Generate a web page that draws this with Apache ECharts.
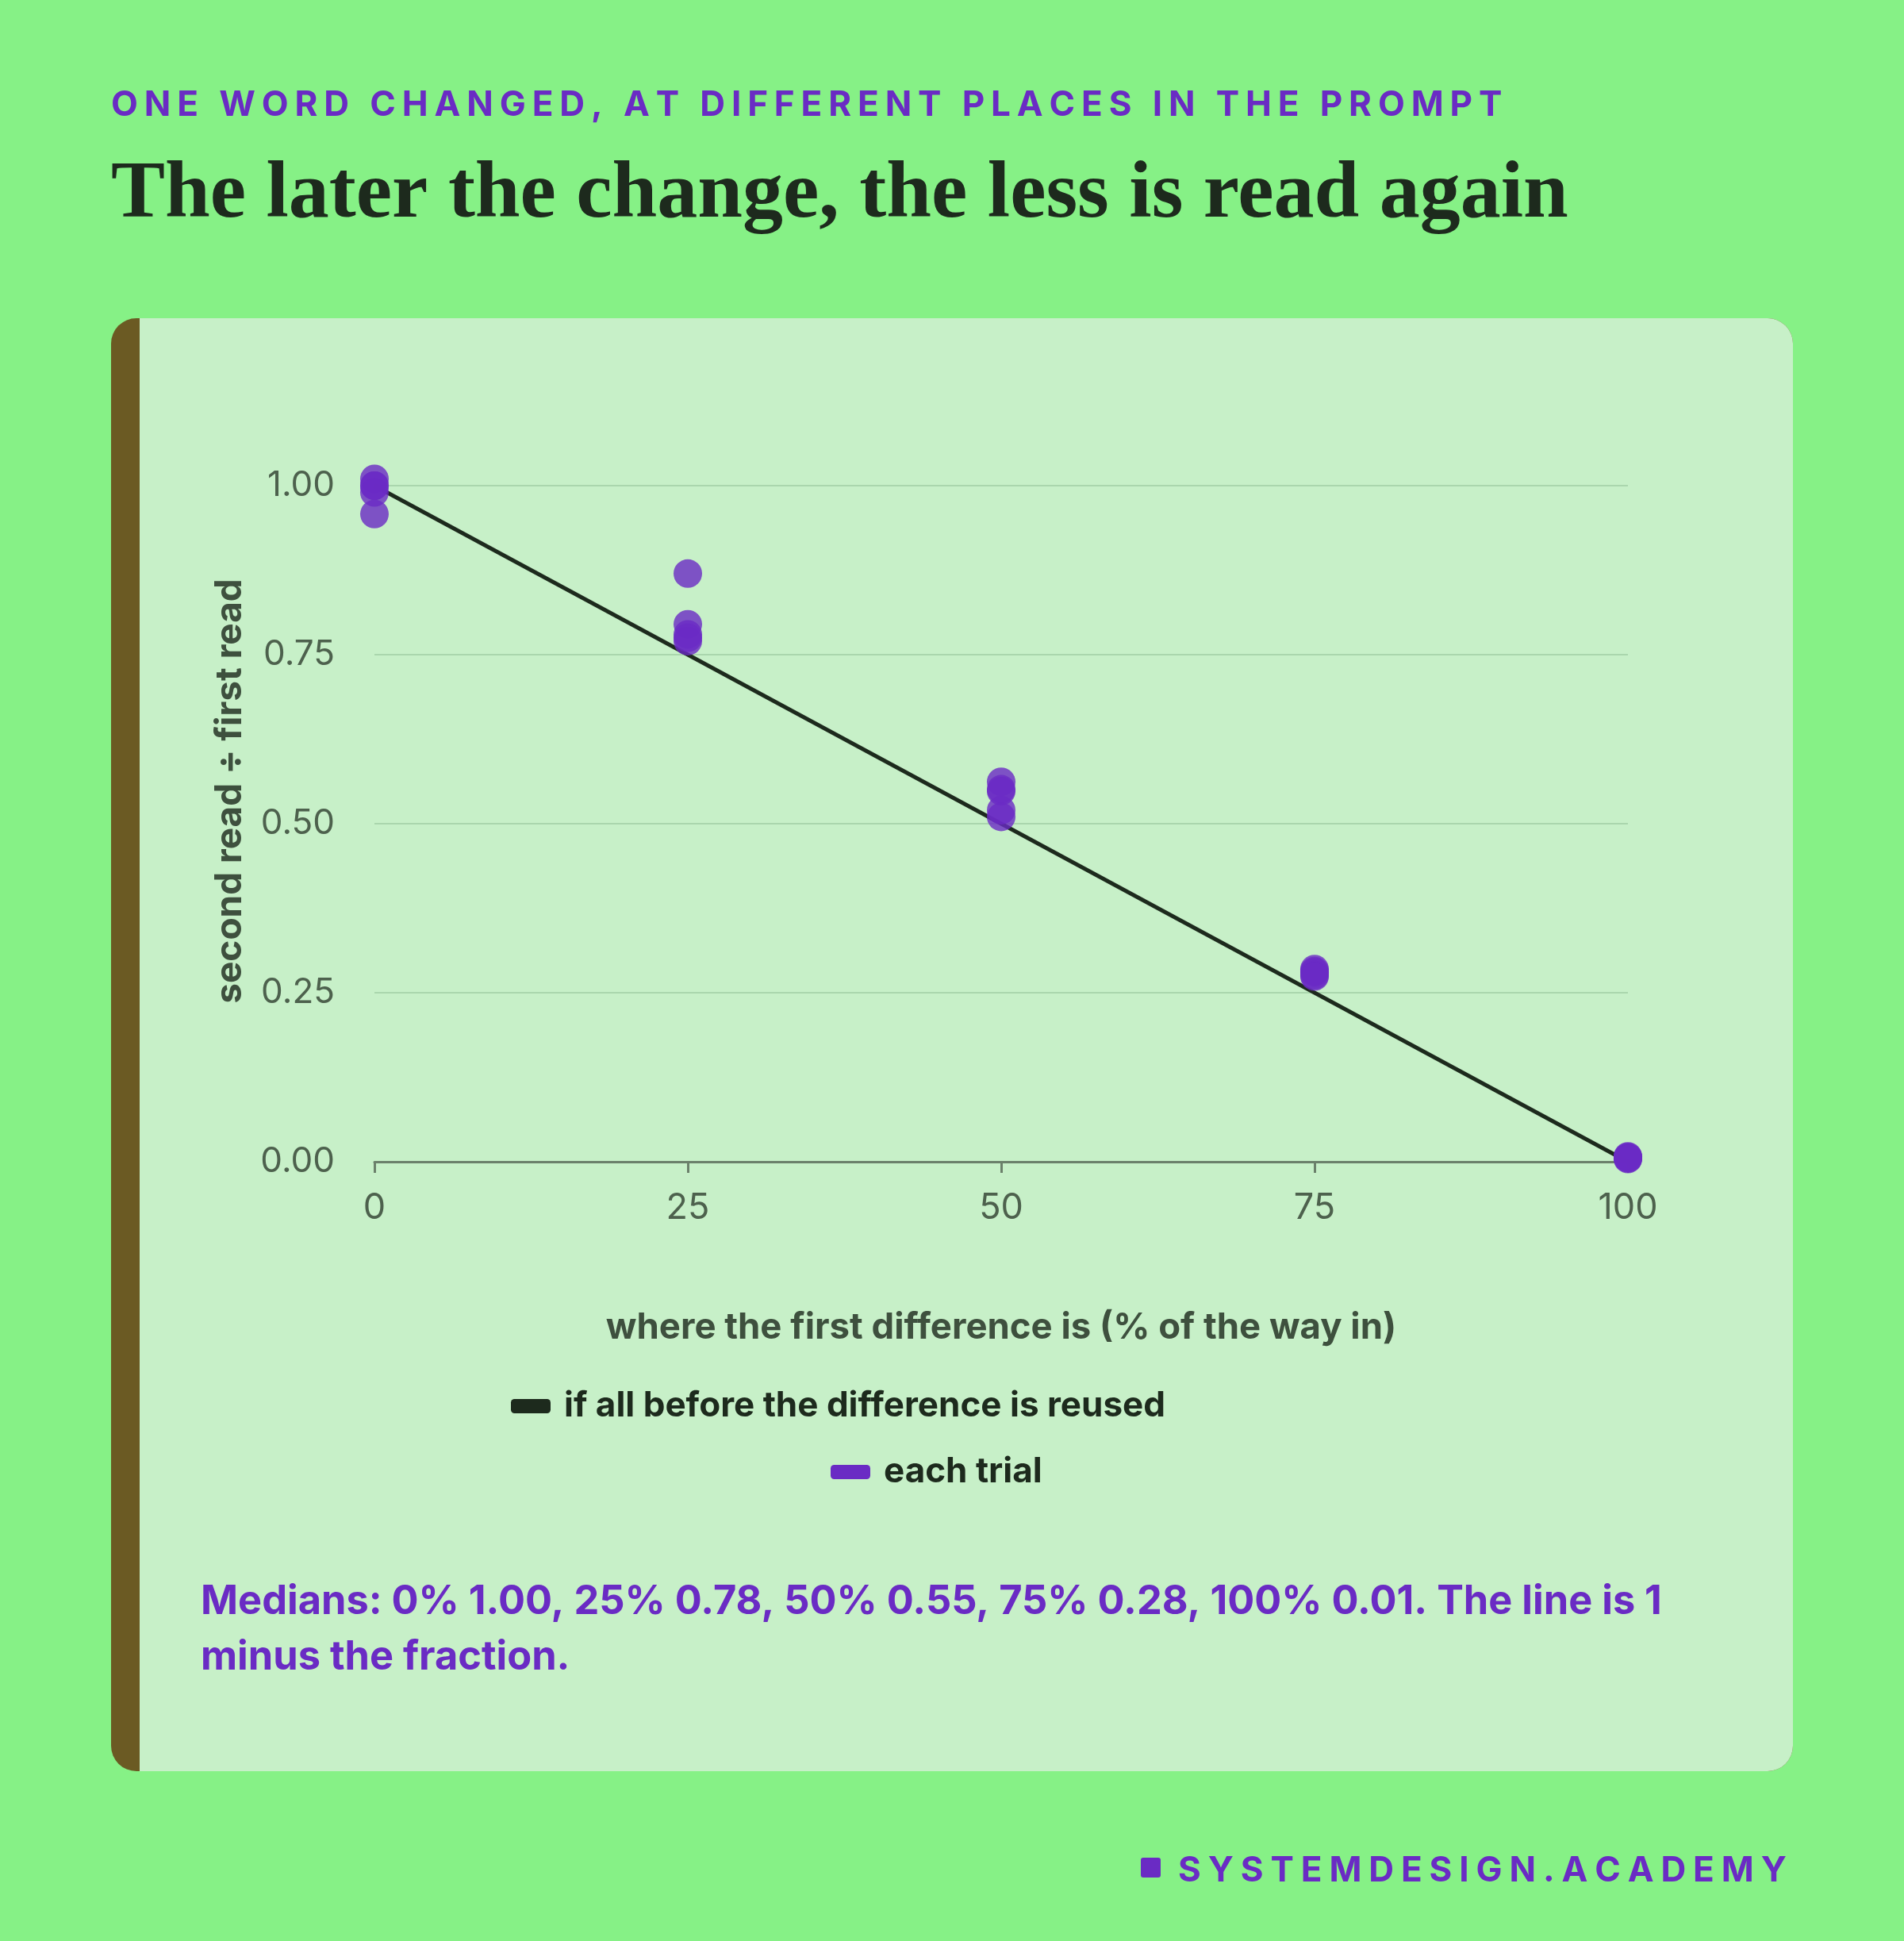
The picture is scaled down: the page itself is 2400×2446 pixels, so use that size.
<!DOCTYPE html>
<html lang="en">
<head>
  <meta charset="utf-8">
</head>
<body style="margin: 0; background: #86f186">
  <div id="container" style="width: 2400px; height: 2446px"></div>

  <script type="text/javascript" src="https://cdn.jsdelivr.net/npm/echarts@6/dist/echarts.min.js"></script>

  <script type="text/javascript">
    // where the first difference is (% of the way in)
    const positions = [0, 25, 50, 75, 100];
    // second read / first read, one value per trial
    const trialsAt0 = [1.01, 1.0, 1.0, 0.99, 0.958];
    const trialsAt25 = [0.87, 0.795, 0.78, 0.775, 0.77];
    const trialsAt50 = [0.562, 0.551, 0.548, 0.52, 0.51];
    const trialsAt75 = [0.285, 0.282, 0.28, 0.276, 0.274];
    const trialsAt100 = [0.008, 0.007, 0.006, 0.005, 0.004];
    // reference line: 1 minus the fraction
    const lineX = [0, 100];
    const lineY = [1, 0];

    const kicker = 'ONE WORD CHANGED, AT DIFFERENT PLACES IN THE PROMPT';
    const headline = 'The later the change, the less is read again';
    const note = 'Medians: 0% 1.00, 25% 0.78, 50% 0.55, 75% 0.28, 100% 0.01. The line is 1 minus the fraction.';
    const brand = 'SYSTEMDESIGN.ACADEMY';

    const trialPoints = [];
    [trialsAt0, trialsAt25, trialsAt50, trialsAt75, trialsAt100].forEach((vals, i) => {
      vals.forEach(v => trialPoints.push([positions[i], v]));
    });
    const linePoints = lineX.map((x, i) => [x, lineY[i]]);

    // zrender has no letter-spacing: the two tracked caps lines are laid out glyph by glyph
    const tracking = { [kicker]: 7.9, [brand]: 8.9 };
    const baseFillText = CanvasRenderingContext2D.prototype.fillText;
    CanvasRenderingContext2D.prototype.fillText = function (text, x, y, maxWidth) {
      const gap = tracking[text];
      if (gap === undefined || this.textAlign !== 'left') return baseFillText.apply(this, arguments);
      let cx = x;
      for (const ch of text) {
        baseFillText.call(this, ch, cx, y);
        cx += this.measureText(ch).width + gap;
      }
    };

    const purple = '#6a2bc4';
    const ink = '#1d2a1d';
    const muted = '#4d614d';
    const label = '#3e503e';

    var dom = document.getElementById('container');
    var myChart = echarts.init(dom, null, { renderer: 'canvas' });

    var option = {
      backgroundColor: '#86f186',
      animation: false,
      graphic: [
        // card with brown left edge
        { type: 'rect', z: 0, shape: { x: 140, y: 401, width: 2120, height: 1831, r: 32 }, style: { fill: '#6b5a23' } },
        { type: 'rect', z: 0, shape: { x: 176, y: 401, width: 2084, height: 1831, r: [0, 32, 32, 0] }, style: { fill: '#c7f0c8' } },
        { type: 'text', z: 1, x: 140, y: 133,
          style: { text: kicker, fill: purple, font: 'bold 44px Inter', align: 'left', verticalAlign: 'middle' } },
        { type: 'text', z: 1, x: 140, y: 247,
          style: { text: headline, fill: ink, font: 'bold 102px "Liberation Serif"', verticalAlign: 'middle' } },
        { type: 'text', z: 1, x: 290, y: 997, rotation: Math.PI / 2,
          style: { text: 'second read ÷ first read', fill: label, font: 'bold 46px Inter', align: 'center', verticalAlign: 'middle' } },
        { type: 'text', z: 1, left: 253, top: 1984,
          style: { text: note, fill: purple, font: 'bold 50.5px Inter', width: 1900, overflow: 'break', lineHeight: 70 } },
        { type: 'rect', z: 1, shape: { x: 1438, y: 2341, width: 25, height: 25, r: 3 }, style: { fill: purple } },
        { type: 'text', z: 1, x: 1485, y: 2358,
          style: { text: brand, fill: purple, font: 'bold 44px Inter', align: 'left', verticalAlign: 'middle' } }
      ],
      legend: [
        {
          left: 639, top: 1745,
          icon: 'roundRect', itemWidth: 50, itemHeight: 18,
          textStyle: { color: ink, fontFamily: 'Inter', fontWeight: 'bold', fontSize: 44, padding: [0, 0, 0, 12] },
          data: ['if all before the difference is reused']
        },
        {
          left: 1042, top: 1828,
          icon: 'roundRect', itemWidth: 50, itemHeight: 18,
          textStyle: { color: ink, fontFamily: 'Inter', fontWeight: 'bold', fontSize: 44, padding: [0, 0, 0, 12] },
          data: [{ name: 'each trial', itemStyle: { opacity: 1 } }]
        }
      ],
      grid: { left: 472, right: 348, top: 612, bottom: 982 },
      xAxis: {
        type: 'value',
        min: 0, max: 100, interval: 25,
        name: 'where the first difference is (% of the way in)',
        nameLocation: 'middle',
        nameGap: 186,
        nameTextStyle: { color: label, fontFamily: 'Inter', fontWeight: 'bold', fontSize: 45.5 },
        axisLine: { show: true, lineStyle: { color: '#6b806b', width: 3 } },
        axisTick: { show: true, length: 14, lineStyle: { color: '#6b806b', width: 3 } },
        axisLabel: { color: muted, fontFamily: 'Inter', fontSize: 45, margin: 36 },
        splitLine: { show: false }
      },
      yAxis: {
        type: 'value',
        min: 0, max: 1, interval: 0.25,
        axisLine: { show: false },
        axisTick: { show: false },
        axisLabel: {
          color: muted, fontFamily: 'Inter', fontSize: 44, margin: 50,
          formatter: v => v.toFixed(2)
        },
        splitLine: { lineStyle: { color: '#aad6ad', width: 2 } }
      },
      series: [
        {
          name: 'if all before the difference is reused',
          type: 'line',
          data: linePoints,
          showSymbol: false,
          lineStyle: { color: ink, width: 5 },
          itemStyle: { color: ink },
          z: 2
        },
        {
          name: 'each trial',
          type: 'scatter',
          data: trialPoints,
          symbolSize: 36,
          clip: false,
          itemStyle: { color: purple, opacity: 0.8 },
          z: 3
        }
      ]
    };

    myChart.setOption(option);
    window.addEventListener('resize', myChart.resize);
  </script>
</body>
</html>
